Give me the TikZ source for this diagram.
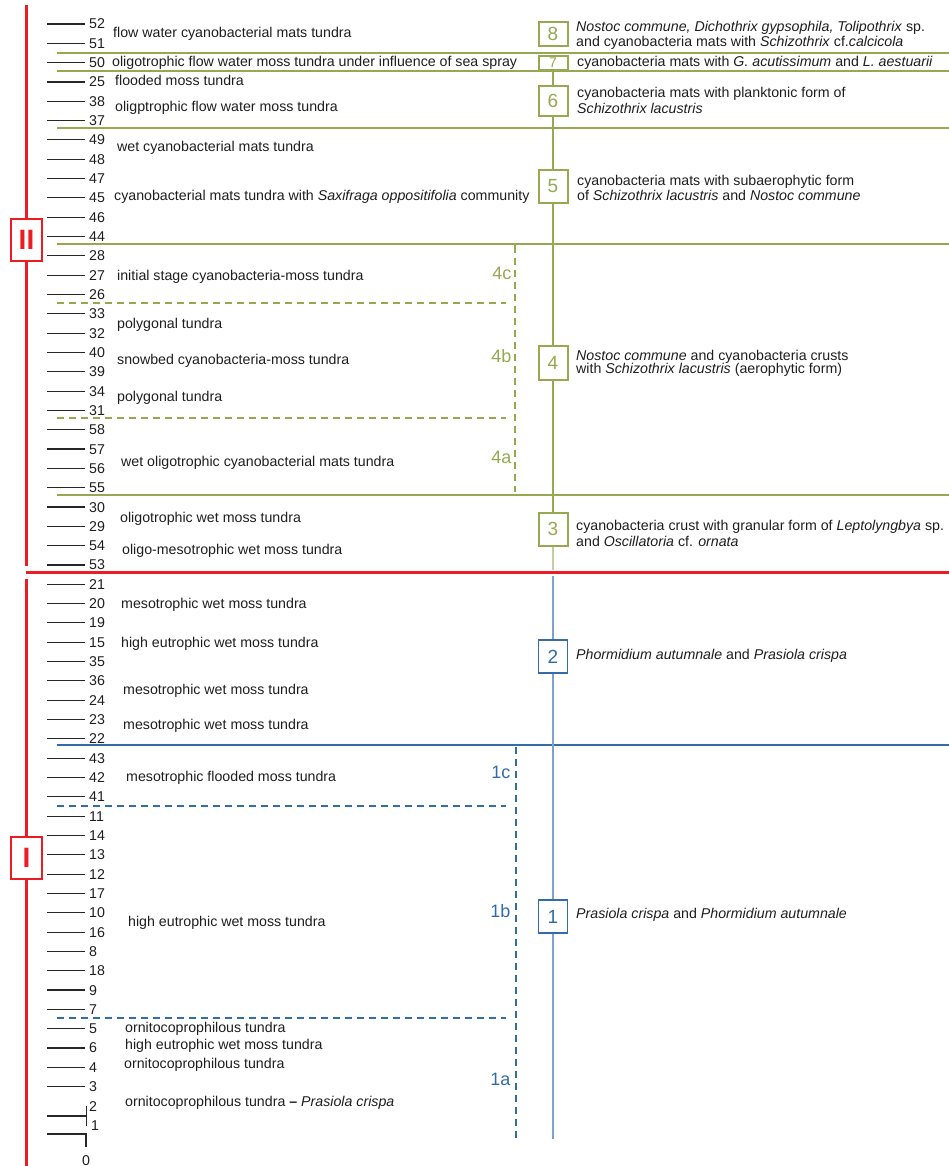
\documentclass[tikz,border=0pt]{standalone}
\usepackage{fontspec}
\setmainfont{Liberation Sans}
\definecolor{grn}{RGB}{150,168,80}
\definecolor{grnlt}{RGB}{195,205,160}
\definecolor{blu}{RGB}{52,108,168}
\definecolor{blult}{RGB}{125,163,205}
\definecolor{rd}{RGB}{237,28,36}
\definecolor{txt}{RGB}{30,30,30}
\newcommand\mainfs{\fontsize{14.2}{15.5}\selectfont}
\begin{document}
\begin{tikzpicture}[x=1pt,y=-1pt,
  lbl/.style={anchor=base west, inner sep=0, font=\mainfs, text=txt},
  desc/.style={anchor=west, inner sep=0, align=left, font=\mainfs, text=txt},
  num/.style={anchor=base west, inner sep=0, font=\mainfs, text=txt},
  tickline/.style={line width=1.1pt, draw=black!85},
  gline/.style={line width=1.8pt, draw=grn},
  gdash/.style={line width=1.7pt, draw=grn, dash pattern=on 7pt off 5pt},
  bline/.style={line width=1.7pt, draw=blu},
  bdash/.style={line width=1.7pt, draw=blu, dash pattern=on 7pt off 5pt},
  gbox/.style={draw=grn, line width=2pt, minimum width=29pt, inner sep=0, text=grn, font=\fontsize{19}{19}\selectfont, fill=white},
  bbox/.style={draw=blu, line width=1.8pt, minimum width=29pt, inner sep=0, text=blu, font=\fontsize{19}{19}\selectfont, fill=white},
  secbox/.style={draw=rd, line width=1.6pt, minimum width=31pt, minimum height=42pt, inner sep=0, fill=white, text=rd, font=\fontsize{28}{28}\selectfont\bfseries},
  sub/.style={anchor=east, inner sep=0, font=\fontsize{18}{18}\selectfont},
  gconn/.style={line width=1.8pt, draw=grn},
  bconn/.style={line width=1.5pt, draw=blult}
]
\useasboundingbox (0,0) rectangle (949,1166);

% ---- red section axis
\node[secbox] (secII) at (26.5,240) {II};
\node[secbox] (secI) at (26.5,858) {I};
\coordinate (rtop) at (26.5,5);
\coordinate (rmidA) at (26.5,566);
\coordinate (rmidB) at (26.5,579);
\coordinate (rbot) at (26.5,1166);
\draw[rd, line width=3pt] (rtop) -- (secII.north);
\draw[rd, line width=3pt] (secII.south) -- (rmidA);
\draw[rd, line width=3pt] (rmidB) -- (secI.north);
\draw[rd, line width=3pt] (secI.south) -- (rbot);
\draw[rd, line width=2.2pt] (26,572.5) -- (949,572.5);

% ---- horizontal dividers
\foreach \yy in {53,70.7,128.3,244.3,495.3} \draw[gline] (57,\yy) -- (949,\yy);
\foreach \yy in {303.3,417.7} \draw[gdash] (57,\yy) -- (506,\yy);
\draw[gdash] (515,245.5) -- (515,492);
\draw[bline] (57,745.3) -- (949,745.3);
\foreach \yy in {806,1017.7} \draw[bdash] (57,\yy) -- (506,\yy);
\draw[bdash] (516,746.5) -- (516,1139);

% ---- ticks and numbers
\foreach \n [count=\i from 0] in {52,51,50,25,38,37,49,48,47,45,46,44,28,27,26,33,32,40,39,34,31,58,57,56,55,30,29,54,53,21,20,19,15,35,36,24,23,22,43,42,41,11,14,13,12,17,10,16,8,18,9,7,5,6,4,3} {
  \pgfmathsetmacro\yy{24+19.32*\i}
  \draw[tickline] (47,\yy) -- (85,\yy);
  \node[num] (n\i) at (89,\yy+5) {\n};
}
\draw[tickline] (47,1116) -- (86,1116);
\draw[line width=0.9pt, draw=black!85] (86,1106) -- (86,1125.5);
\node[num] (n2) at (89,1111) {2};
\node[num] (n1) at (91,1130) {1};
\draw[tickline] (47,1134) -- (86,1134) -- (86,1147);
\node[anchor=base, inner sep=0, font=\mainfs, text=txt] (n0) at (86,1165) {0};

% ---- left labels
\node[lbl] (l1) at (113,37.5) {flow water cyanobacterial mats tundra};
\node[lbl] (l2) at (112,67) {oligotrophic flow water moss tundra under influence of sea spray};
\node[lbl] (l3) at (115,86) {flooded moss tundra};
\node[lbl] (l4) at (115,112) {oligptrophic flow water moss tundra};
\node[lbl] (l5) at (117,152) {wet cyanobacterial mats tundra};
\node[lbl] (l6) at (114,201) {cyanobacterial mats tundra with \textit{Saxifraga oppositifolia} community};
\node[lbl] (l7) at (117,280.5) {initial stage cyanobacteria-moss tundra};
\node[lbl] (l8) at (117,328) {polygonal tundra};
\node[lbl] (l9) at (117,364) {snowbed cyanobacteria-moss tundra};
\node[lbl] (l10) at (117,401) {polygonal tundra};
\node[lbl] (l11) at (121,466) {wet oligotrophic cyanobacterial mats tundra};
\node[lbl] (l12) at (120,522) {oligotrophic wet moss tundra};
\node[lbl] (l13) at (122,554.5) {oligo-mesotrophic wet moss tundra};
\node[lbl] (l14) at (121,608) {mesotrophic wet moss tundra};
\node[lbl] (l15) at (121,647.5) {high eutrophic wet moss tundra};
\node[lbl] (l16) at (123,694.5) {mesotrophic wet moss tundra};
\node[lbl] (l17) at (123,729.5) {mesotrophic wet moss tundra};
\node[lbl] (l18) at (126,781.5) {mesotrophic flooded moss tundra};
\node[lbl] (l19) at (128,926) {high eutrophic wet moss tundra};
\node[lbl] (l20) at (125,1032) {ornitocoprophilous tundra};
\node[lbl] (l21) at (125,1049.5) {high eutrophic wet moss tundra};
\node[lbl] (l22) at (124,1068) {ornitocoprophilous tundra};
\node[lbl] (l23) at (125,1106) {ornitocoprophilous tundra \textbf{\textendash} \textit{Prasiola crispa}};

% ---- sub-zone labels
\node[sub, text=grn] (s4c) at (511.5,273) {4c};
\node[sub, text=grn] (s4b) at (511.5,356) {4b};
\node[sub, text=grn] (s4a) at (511.5,457) {4a};
\node[sub, text=blu] (s1c) at (510.5,772) {1c};
\node[sub, text=blu] (s1b) at (510.5,911) {1b};
\node[sub, text=blu] (s1a) at (510.5,1079) {1a};

% ---- zone boxes
\node[gbox, minimum height=24pt] (b8) at (553,34) {8};
\node[gbox, minimum height=14pt, font=\fontsize{14}{14}\selectfont] (b7) at (553,63) {7};
\node[gbox, minimum height=30pt] (b6) at (553,101) {6};
\node[gbox, minimum height=33pt] (b5) at (553,186.5) {5};
\node[gbox, minimum height=34pt] (b4) at (553,363) {4};
\node[gbox, minimum height=33pt] (b3) at (553,529) {3};
\node[bbox, minimum height=33pt] (b2) at (553,656.5) {2};
\node[bbox, minimum height=33pt] (b1) at (553,916.5) {1};
\coordinate (gend) at (553,570);
\coordinate (bstart) at (553,575.5);
\coordinate (bend) at (553,1139);

\draw[gconn] (b7.south) -- (b6.north);
\draw[gconn] (b6.south) -- (b5.north);
\draw[gconn] (b5.south) -- (b4.north);
\draw[gconn] (b4.south) -- (b3.north);
\draw[line width=1.3pt, draw=grnlt] (b3.south) -- (gend);
\draw[bconn] (bstart) -- (b2.north);
\draw[bconn] (b2.south) -- (b1.north);
\draw[bconn] (b1.south) -- (bend);

% ---- descriptions
\node[desc] (d8) at (576,35.8) {\textit{Nostoc commune, Dichothrix gypsophila, Tolipothrix} sp.\\[-0.5pt] and cyanobacteria mats with \textit{Schizothrix} cf.\textit{calcicola}};
\node[lbl] (d7) at (577,66.5) {cyanobacteria mats with \textit{G. acutissimum} and \textit{L. aestuarii}};
\node[desc] (d6) at (577,100.3) {cyanobacteria mats with planktonic form of\\ \textit{Schizothrix lacustris}};
\node[desc] (d5) at (577,188) {cyanobacteria mats with subaerophytic form\\[-0.3pt] of \textit{Schizothrix lacustris} and \textit{Nostoc commune}};
\node[desc] (d4) at (576,363) {\textit{Nostoc commune} and cyanobacteria crusts\\[-2.2pt] with \textit{Schizothrix lacustris} (aerophytic form)};
\node[desc] (d3) at (576,533.5) {cyanobacteria crust with granular form of \textit{Leptolyngbya} sp.\\ and \textit{Oscillatoria} cf. \textit{ornata}};
\node[lbl] (d2) at (576,659) {\textit{Phormidium autumnale} and \textit{Prasiola crispa}};
\node[lbl] (d1) at (576,918.8) {\textit{Prasiola crispa} and \textit{Phormidium autumnale}};
\end{tikzpicture}
\end{document}
